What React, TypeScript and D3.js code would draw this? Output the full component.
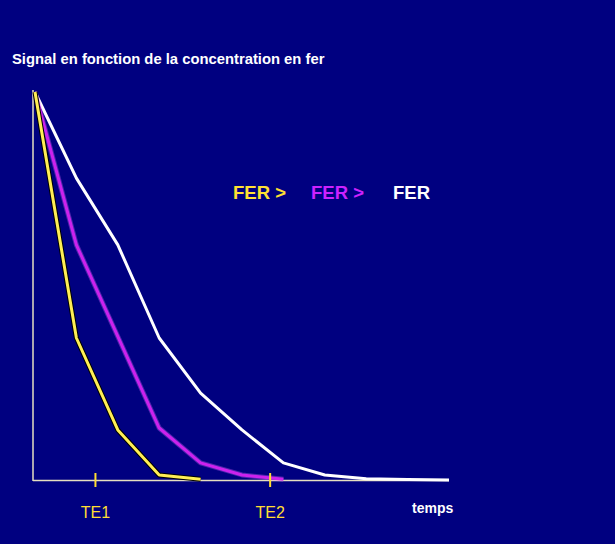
import * as d3 from "d3";

const TIMES = [0, 1, 2, 3, 4, 5, 6, 7, 8, 9, 10];
const YELLOW = [100, 36.6, 12.9, 1.3, 0.2];
const MAGENTA = [100, 60.6, 37, 13.4, 4.4, 1.3, 0.2];
const WHITE = [100, 77.8, 60.6, 36.6, 22.4, 12.9, 4.4, 1.3, 0.3, 0.1, 0];
const TICKS = [{ t: 1.46, label: "TE1" }, { t: 5.68, label: "TE2" }];
const LEGEND = [
  { text: "FER >", color: "#ffe033", x: 233 },
  { text: "FER >", color: "#cc22ff", x: 311 },
  { text: "FER", color: "#ffffff", x: 393 },
];

const W = 615, H = 544;

export default function App() {
  const x = d3.scaleLinear().domain([0, 10]).range([35, 449]);
  const y = d3.scaleLinear().domain([0, 100]).range([480, 92]);
  const line = d3.line<number>().x((_, i) => x(TIMES[i])).y((d) => y(d));
  const font = "Arial, 'Liberation Sans', sans-serif";

  return (
    <svg width={W} height={H} style={{ position: "absolute", left: 0, top: 0, background: "#000080" }}>
      <rect width={W} height={H} fill="#000080" />
      <text x={12} y={64} fill="#fff" fontFamily={font} fontWeight="bold" fontSize={14.8}>
        Signal en fonction de la concentration en fer
      </text>
      {/* axes */}
      <line x1={33} y1={90} x2={33} y2={481} stroke="#e6dfc0" strokeWidth={1.5} />
      <line x1={33} y1={480.5} x2={449} y2={480.5} stroke="#e6dfc0" strokeWidth={1.5} />
      {/* curves */}
      <path d={line(WHITE) ?? ""} fill="none" stroke="#ffffff" strokeWidth={3} strokeLinejoin="round" />
      <path d={line(MAGENTA) ?? ""} fill="none" stroke="#dd66ff" strokeOpacity={0.35} strokeWidth={5} strokeLinejoin="round" />
      <path d={line(MAGENTA) ?? ""} fill="none" stroke="#cc22ee" strokeWidth={3} strokeLinejoin="round" />
      <path d={line(YELLOW) ?? ""} fill="none" stroke="#000000" strokeWidth={5} strokeLinejoin="round" />
      <path d={line(YELLOW) ?? ""} fill="none" stroke="#ffee55" strokeWidth={3} strokeLinejoin="round" />
      {TICKS.map((tk) => (
        <g key={tk.label}>
          <line x1={x(tk.t)} x2={x(tk.t)} y1={473} y2={487} stroke="#ffdd33" strokeWidth={2} />
          <text x={x(tk.t)} y={518} textAnchor="middle" fill="#ffdd33" fontFamily={font} fontSize={16}>
            {tk.label}
          </text>
        </g>
      ))}
      <text x={412} y={513} fill="#fff" fontFamily={font} fontWeight="bold" fontSize={14}>temps</text>
      {LEGEND.map((l, i) => (
        <text key={i} x={l.x} y={199} fill={l.color} fontFamily={font} fontWeight="bold" fontSize={18.5}>
          {l.text}
        </text>
      ))}
    </svg>
  );
}
